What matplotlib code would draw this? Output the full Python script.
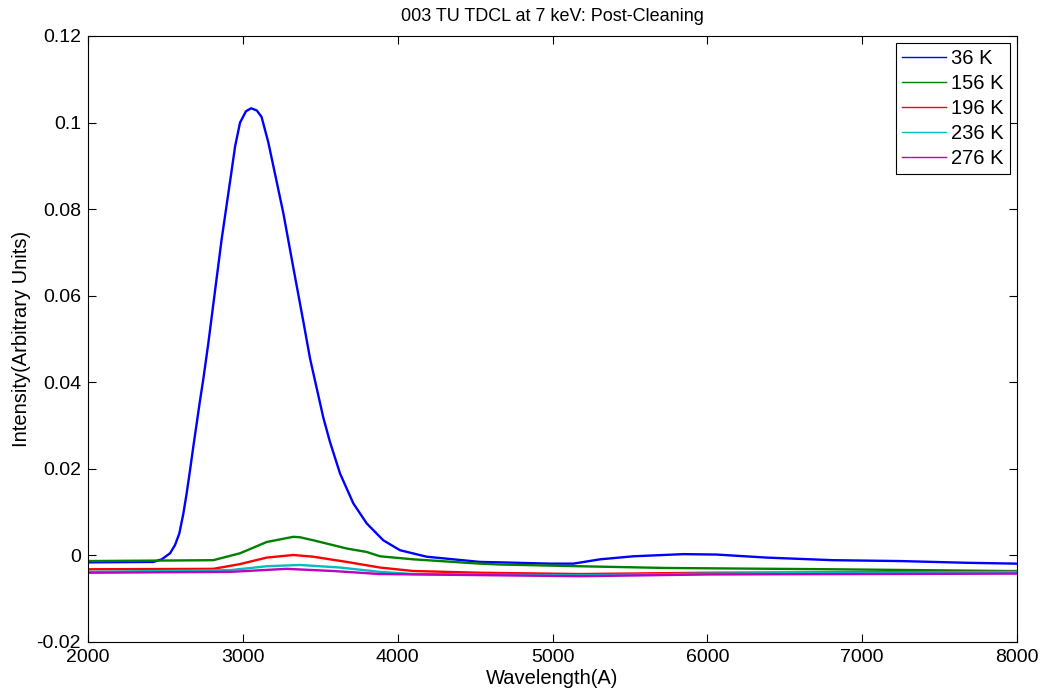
import matplotlib
matplotlib.use("Agg")
import matplotlib.pyplot as plt

plt.rcParams['font.family'] = ['Liberation Sans', 'DejaVu Sans']

# 36 K
wl_36 = [2000, 2422, 2476, 2530, 2562, 2590, 2616, 2637, 2659, 2680, 2702, 2723, 2745,
         2777, 2820, 2863, 2922, 2950, 2982, 3020, 3053, 3090, 3121, 3164, 3207, 3262,
         3326, 3391, 3434, 3520, 3563, 3628, 3714, 3800, 3907, 4015, 4188, 4532, 4661,
         4984, 5134, 5307, 5522, 5845, 6060, 6383, 6813, 7244, 7675, 8000]
iv_36 = [-0.0016, -0.0015, -0.0009, 0.0005, 0.0024, 0.0051, 0.0097, 0.0143, 0.0197,
         0.0251, 0.0305, 0.0357, 0.0408, 0.0490, 0.0610, 0.0730, 0.0875, 0.0945, 0.1000,
         0.1026, 0.1033, 0.1028, 0.1013, 0.0955, 0.0883, 0.0790, 0.0665, 0.0540, 0.0455,
         0.0318, 0.0262, 0.0189, 0.0120, 0.0074, 0.0035, 0.0012, -0.0003, -0.0015,
         -0.0016, -0.0019, -0.0019, -0.0009, -0.0002, 0.0003, 0.0002, -0.0005, -0.0011,
         -0.0013, -0.0017, -0.0019]

# 156 K
wl_156 = [2000, 2809, 2982, 3154, 3326, 3369, 3455, 3671, 3800, 3886, 4101, 4188, 4532,
          4661, 5178, 5737, 6813, 7934, 8000]
iv_156 = [-0.0013, -0.0011, 0.0005, 0.0031, 0.0043, 0.0042, 0.0035, 0.0016, 0.0008,
          -0.0002, -0.0009, -0.0011, -0.0019, -0.0021, -0.0025, -0.0029, -0.0032,
          -0.0036, -0.0036]

# 196 K
wl_196 = [2000, 2809, 2982, 3154, 3326, 3455, 3671, 3886, 4101, 4532, 5178, 6000, 8000]
iv_196 = [-0.0032, -0.0031, -0.0020, -0.0005, 0.0001, -0.0003, -0.0015, -0.0028, -0.0036,
          -0.0040, -0.0043, -0.0040, -0.0038]

# 236 K
wl_236 = [2000, 2917, 3154, 3369, 3628, 3886, 4101, 5178, 6000, 8000]
iv_236 = [-0.0038, -0.0034, -0.0025, -0.0022, -0.0028, -0.0038, -0.0043, -0.0046, -0.0042, -0.0038]

# 276 K
wl_276 = [2000, 2917, 3283, 3583, 3886, 5178, 6000, 8000]
iv_276 = [-0.0040, -0.0038, -0.0031, -0.0036, -0.0043, -0.0048, -0.0044, -0.0042]

labels = ['36 K', '156 K', '196 K', '236 K', '276 K']
colors = ['#0000ff', '#008000', '#ff0000', '#00bfbf', '#bf00bf']
xticks = [2000, 3000, 4000, 5000, 6000, 7000, 8000]
yticks = [-0.02, 0, 0.02, 0.04, 0.06, 0.08, 0.1, 0.12]
ytick_labels = ['-0.02', '0', '0.02', '0.04', '0.06', '0.08', '0.1', '0.12']

fig = plt.figure(figsize=(10.41, 6.93), dpi=100)
ax = fig.add_axes([88/1041, 51/693, (1017-88)/1041, (642-36)/693])

series = [(wl_36, iv_36), (wl_156, iv_156), (wl_196, iv_196), (wl_236, iv_236), (wl_276, iv_276)]
for (x, y), lab, c in zip(series, labels, colors):
    ax.plot(x, y, color=c, lw=1.7, label=lab)

ax.set_xlim(2000, 8000)
ax.set_ylim(-0.02, 0.12)
ax.set_xticks(xticks)
ax.set_xticklabels([str(t) for t in xticks])
ax.set_yticks(yticks)
ax.set_yticklabels(ytick_labels)
ax.tick_params(direction='in', length=6, width=0.8, top=True, right=True, labelsize=14, pad=5)
for s in ax.spines.values():
    s.set_linewidth(0.8)

ax.set_title('003 TU TDCL at 7 keV: Post-Cleaning', fontsize=13, pad=11)
ax.set_xlabel('Wavelength(A)', fontsize=14.5, labelpad=2)
ax.set_ylabel('Intensity(Arbitrary Units)', fontsize=14.5, labelpad=4)

leg = ax.legend(loc='upper right', fontsize=14.5, frameon=True, fancybox=False,
                edgecolor='black', framealpha=1, handlelength=2.2, handletextpad=0.25,
                labelspacing=0.3, borderaxespad=0.35, borderpad=0.3)
leg.get_frame().set_linewidth(0.8)
for l in leg.get_lines():
    l.set_linewidth(1.0)

fig.savefig('out.png', dpi=100)
